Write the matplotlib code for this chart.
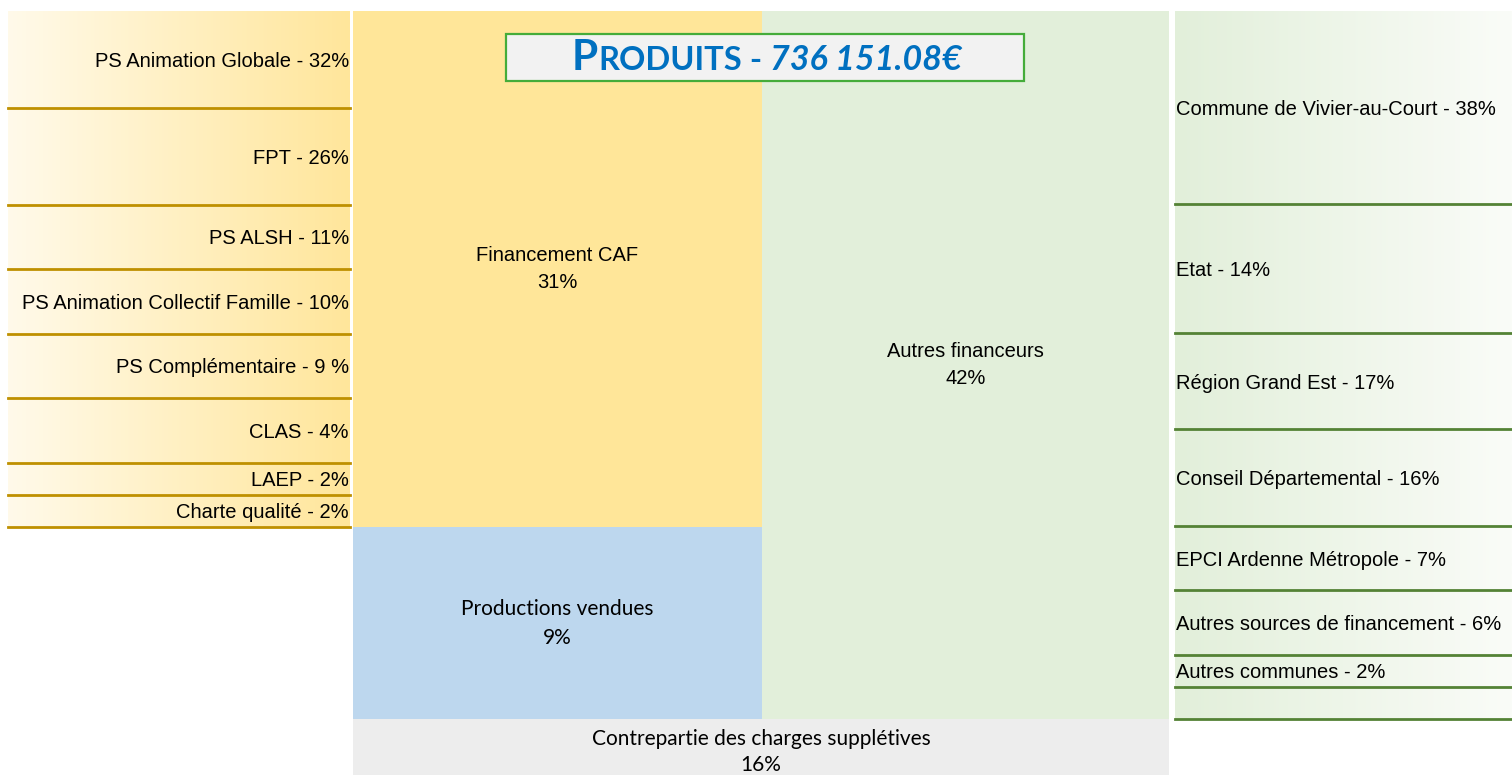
import numpy as np
import matplotlib.pyplot as plt
from matplotlib.colors import LinearSegmentedColormap
from matplotlib.patches import Rectangle

plt.rcParams['font.family'] = ['Liberation Sans', 'DejaVu Sans']

W, H = 1512, 775

# Central treemap
tile_names = ["Financement CAF", "Productions vendues", "Autres financeurs",
              "Contrepartie des charges supplétives"]
tile_pct = [31, 9, 42, 16]
# tile areas as they appear on the picture (share of the drawn treemap, %)
tile_area = [33.4, 12.4, 45.6, 8.5]
tile_colors = ['#FFE699', '#BDD7EE', '#E2EFDA', '#EDEDED']

# CAF detail (left table)
left_names = ["PS Animation Globale", "FPT", "PS ALSH", "PS Animation Collectif Famille",
              "PS Complémentaire", "CLAS", "LAEP", "Charte qualité"]
left_pct = [32, 26, 11, 10, 9, 4, 2, 2]

# Autres financeurs detail (right table)
right_names = ["Commune de Vivier-au-Court", "Etat", "Région Grand Est", "Conseil Départemental",
               "EPCI Ardenne Métropole", "Autres sources de financement", "Autres communes"]
right_pct = [38, 14, 17, 16, 7, 6, 2]

total_amount = "736 151.08€"

# spreadsheet rows used by each line of the side tables
left_rows = [3, 3, 2, 2, 2, 2, 1, 1]
right_rows = [6, 4, 3, 3, 2, 2, 1, 1]   # last row is empty


def label(name, pct):
    sep = " " if name == "PS Complémentaire" else ""
    return f"{name} - {pct}{sep}%"


fig = plt.figure(figsize=(W / 100, H / 100), dpi=100)


def px_axes(x0, y0, x1, y1):
    ax = fig.add_axes([x0 / W, 1 - y1 / H, (x1 - x0) / W, (y1 - y0) / H])
    ax.set_axis_off()
    return ax


def side_panel(ax, names, pcts, rows, c_from, c_to, line_color, align):
    n = sum(rows)
    cmap = LinearSegmentedColormap.from_list('g', [c_from, c_to])
    ax.imshow(np.linspace(0, 1, 256)[None, :], cmap=cmap, aspect='auto',
              extent=[0, 1, n, 0], zorder=0)
    ax.set_xlim(0, 1)
    ax.set_ylim(n, 0)
    edges = np.cumsum(rows)
    starts = edges - np.array(rows)
    for e in edges:
        ax.axhline(e, color=line_color, lw=2.0, clip_on=False, zorder=2)
    for i, (nm, p) in enumerate(zip(names, pcts)):
        mid = (starts[i] + edges[i]) / 2
        if align == 'right':
            ax.text(0.997, mid, label(nm, p), ha='right', va='center_baseline', fontsize=14.5)
        else:
            ax.text(0.003, mid, label(nm, p), ha='left', va='center_baseline', fontsize=14.5)


# left table
axl = px_axes(8, 11, 350, 527)
side_panel(axl, left_names, left_pct, left_rows, '#FFFAEA', '#FFE69B', '#BF9000', 'right')

# right table
axr = px_axes(1175, 11, 1512, 719)
side_panel(axr, right_names, right_pct, right_rows, '#E2EFDA', '#FAFCF8', '#548235', 'left')

# treemap (slice layout: bottom strip, then two columns)
axc = px_axes(353, 11, 1169, 785)
axc.set_xlim(0, 1)
axc.set_ylim(0, 1)
tot = sum(tile_area)
f_c = tile_area[3] / tot
w_left = (tile_area[0] + tile_area[1]) / (tot - tile_area[3])
h_prod = (1 - f_c) * tile_area[1] / (tile_area[0] + tile_area[1])
rects = [
    (0, f_c + h_prod, w_left, 1 - f_c - h_prod),
    (0, f_c, w_left, h_prod),
    (w_left, f_c, 1 - w_left, 1 - f_c),
    (0, 0, 1, f_c),
]
tile_font = [('Liberation Sans', 14.5, 1.5), ('Lato', 15, 1.55),
             ('Liberation Sans', 14.5, 1.5), ('Lato', 15, 1.4)]
for (x, y, w, h), nm, p, c, (fam, fs, ls) in zip(rects, tile_names, tile_pct, tile_colors, tile_font):
    axc.add_patch(Rectangle((x, y), w, h, facecolor=c, edgecolor='none'))
    axc.text(x + w / 2, y + h / 2, f"{nm}\n{p}%", ha='center', va='center',
             fontsize=fs, family=[fam, 'DejaVu Sans'], linespacing=ls)

# title box
fig.add_artist(Rectangle((506 / W, 1 - 81 / H), 518 / W, 47 / H, transform=fig.transFigure,
                         facecolor='#F2F2F2', edgecolor='#45AC3A', lw=1.6, zorder=3))
renderer = fig.canvas.get_renderer()
pieces = [("P", 30.5, 'normal'), ("RODUITS", 23.5, 'normal'), (" - ", 23.5, 'normal'),
          (total_amount, 24.5, 'italic')]
x = 572
for s, fs, st in pieces:
    t = fig.text(x / W, 1 - 69.5 / H, s, fontsize=fs, fontweight='bold', fontstyle=st,
                 color='#0070C0', family=['Lato', 'DejaVu Sans'], va='baseline', zorder=4)
    x = t.get_window_extent(renderer).x1

fig.savefig('out.png', dpi=100)
